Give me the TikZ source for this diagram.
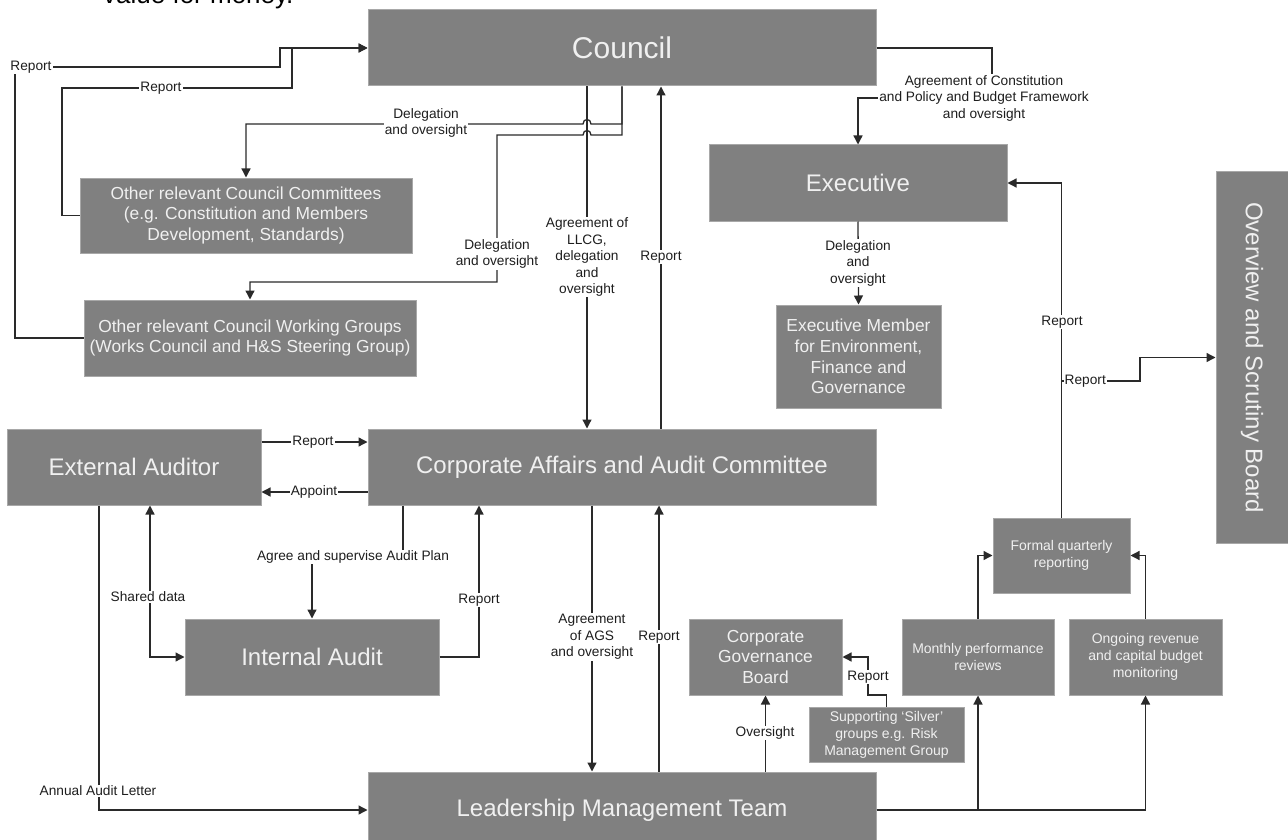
\documentclass[tikz,border=0pt]{standalone}
\usepackage{fontspec}
\setmainfont{Liberation Sans}
\usetikzlibrary{arrows.meta}
\definecolor{boxfill}{HTML}{808080}
\definecolor{boxedge}{HTML}{A8A8A8}
\definecolor{boxtext}{HTML}{F0F0F0}
\definecolor{linec}{HTML}{2A2A2A}
\definecolor{lblc}{HTML}{1E1E1E}
\begin{document}
\begin{tikzpicture}[x=1pt,y=-1pt,
  box/.style={draw=boxedge, line width=1pt, fill=boxfill, text=boxtext, inner sep=0pt, align=center},
  bigtxt/.style={font=\fontsize{24}{28}\selectfont},
  midtxt/.style={font=\fontsize{17.4}{20.8}\selectfont},
  smalltxt/.style={font=\fontsize{14}{17}\selectfont},
  conn/.style={draw=linec, line width=1.3pt, -{Triangle[length=9pt,width=9pt]}},
  conntwo/.style={draw=linec, line width=1.3pt, {Triangle[length=9pt,width=9pt]}-{Triangle[length=9pt,width=9pt]}},
  lbl/.style={fill=white, text=lblc, inner sep=1pt, align=center, font=\fontsize{13.7}{16.5}\selectfont},
]
\useasboundingbox (0,0) rectangle (1288,840);
\clip (0,0) rectangle (1288,840);

% partial heading text cut off at the top, as in the reference
\node[anchor=base west, inner sep=0pt, font=\fontsize{26}{30}\selectfont] (vfm) at (103,4) {value for money.};

% ---------- boxes ----------
\node[box, minimum width=508pt, minimum height=76pt, font=\fontsize{30}{36}\selectfont] (council) at (622,48) {Council};
\node[box, bigtxt, minimum width=298pt, minimum height=76pt] (exec) at (858,183) {Executive};
\node[box, midtxt, minimum width=165pt, minimum height=103pt] (execmem) at (858.5,356.5) {Executive Member\\for Environment,\\Finance and\\Governance};
\node[box, bigtxt, rotate=-90, minimum width=371pt, minimum height=72pt] (overview) at (1252,357.5) {Overview and Scrutiny Board};
\node[box, midtxt, minimum width=332pt, minimum height=75pt] (committees) at (246,215.5) {Other relevant Council Committees\\(e.g. Constitution and Members\\Development, Standards)};
\node[box, midtxt, minimum width=332pt, minimum height=76pt] (wgroups) at (250,338) {Other relevant Council Working Groups\\(Works Council and H\&S Steering Group)};
\node[box, bigtxt, minimum width=254pt, minimum height=76pt] (extaud) at (134,467) {External Auditor};
\node[box, bigtxt, minimum width=508pt, minimum height=76pt] (caac) at (622,467) {Corporate Affairs and Audit Committee};
\node[box, bigtxt, minimum width=254pt, minimum height=76pt] (intaud) at (312,657) {Internal Audit};
\node[box, bigtxt, minimum width=508pt, minimum height=76pt] (lmt) at (622,810) {Leadership Management Team};
\node[box, midtxt, minimum width=153pt, minimum height=76pt] (cgb) at (765.5,657) {Corporate\\Governance\\Board};
\node[box, smalltxt, minimum width=155pt, minimum height=55pt] (silver) at (886.5,734.5) {Supporting ‘Silver’\\groups e.g. Risk\\Management Group};
\node[box, smalltxt, minimum width=152pt, minimum height=76pt] (monthly) at (978,657) {Monthly performance\\reviews};
\node[box, smalltxt, minimum width=153pt, minimum height=76pt] (ongoing) at (1145.5,657) {Ongoing revenue\\and capital budget\\monitoring};
\node[box, smalltxt, minimum width=137pt, minimum height=75pt] (formal) at (1061.5,555.5) {Formal quarterly\\reporting};

% ---------- connectors ----------
\draw[conn] (wgroups.west) -- (15,338) -- (15,67) -- (280,67) -- (280,48) -- (council.west);
\draw[conn] (committees.west) -- (62,215.5) -- (62,88) -- (292,88) -- (292,48) -- (council.west);
\draw[conn] (council.south) -- (622,124) -- (591,124) .. controls (591,118) and (583,118) .. (583,124) -- (246,124) -- (committees.north);
\draw[conn] (council.south) -- (622,135) -- (591,135) .. controls (591,129) and (583,129) .. (583,135) -- (497,135) -- (497,282) -- (250,282) -- (wgroups.north);
\draw[conn] (council.south -| 587,0) -- (caac.north -| 587,0);
\draw[conn] (caac.north -| 661,0) -- (council.south -| 661,0);
\draw[conn] (council.east) -- (992,48) -- (992,98) -- (858,98) -- (exec.north);
\draw[conn] (exec.south) -- (execmem.north);
\draw[conn] (formal.north) |- (exec.east);
\coordinate (rbranch) at (1062,381);
\draw[conn] (rbranch) -- (1140,381) -- (1140,357.5) -- (overview.south);
\draw[conn] (extaud.east |- 0,442) -- (caac.west |- 0,442);
\draw[conn] (caac.west |- 0,492) -- (extaud.east |- 0,492);
\draw[conn] (caac.south -| 403,0) -- (403,557) -- (312,557) -- (intaud.north);
\draw[conntwo] (extaud.south -| 150,0) |- (intaud.west);
\draw[conn] (extaud.south -| 99,0) |- (lmt.west);
\draw[conn] (intaud.east) -| (caac.south -| 479,0);
\draw[conn] (caac.south -| 592,0) -- (lmt.north -| 592,0);
\draw[conn] (lmt.north -| 659,0) -- (caac.south -| 659,0);
\draw[conn] (lmt.north -| cgb.south) -- (cgb.south);
\draw[conn] (silver.north) -- (886.5,695) -- (868,695) -- (868,657) -- (cgb.east);
\draw[conn] (lmt.east) -| (monthly.south);
\draw[conn] (lmt.east) -| (ongoing.south);
\draw[conn] (monthly.north) |- (formal.west);
\draw[conn] (ongoing.north) |- (formal.east);

% ---------- labels ----------
\node[lbl] (t1) at (31,67) {Report};
\node[lbl] (t2) at (161,88) {Report};
\node[lbl] (t3) at (426,123) {Delegation\\and oversight};
\node[lbl] (t4) at (497,254) {Delegation\\and oversight};
\node[lbl] (t5) at (587,257) {Agreement of\\LLCG,\\delegation\\and\\oversight};
\node[lbl] (t6) at (661,257) {Report};
\node[lbl] (t7) at (984,98) {Agreement of Constitution\\and Policy and Budget Framework\\and oversight};
\node[lbl] (t8) at (858,263) {Delegation\\and\\oversight};
\node[lbl] (t9) at (1062,322) {Report};
\node[lbl, anchor=west] (t10) at (1063.5,381) {Report};
\node[lbl] (t11) at (313,442) {Report};
\node[lbl] (t12) at (314,492) {Appoint};
\node[lbl] (t13) at (353,557) {Agree and supervise Audit Plan};
\node[lbl] (t14) at (148,597) {Shared data};
\node[lbl] (t15) at (98,791) {Annual Audit Letter};
\node[lbl] (t16) at (479,600) {Report};
\node[lbl] (t17) at (592,637) {Agreement\\of AGS\\and oversight};
\node[lbl] (t18) at (659,637) {Report};
\node[lbl] (t19) at (765,733) {Oversight};
\node[lbl] (t20) at (868,677) {Report};
\end{tikzpicture}
\end{document}
